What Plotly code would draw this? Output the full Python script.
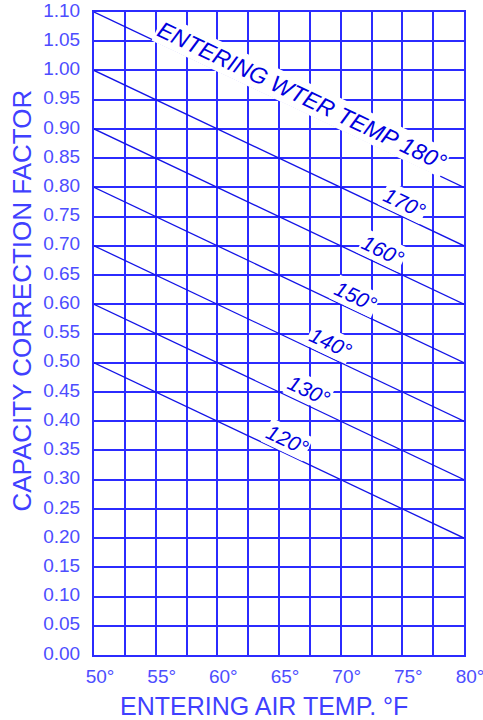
import numpy as np
import plotly.graph_objects as go

# ---- data ----
air_temp = [50, 80]                                   # x endpoints (°F)
water_temps = [120, 130, 140, 150, 160, 170, 180]     # entering water temp (°F)
factor_at_50 = [0.50, 0.60, 0.70, 0.80, 0.90, 1.00, 1.10]
factor_at_80 = [0.20, 0.30, 0.40, 0.50, 0.60, 0.70, 0.80]
x_tick_vals = [50, 55, 60, 65, 70, 75, 80]
x_tick_text = ["50°", "55°", "60°", "65°", "70°", "75°", "80°"]
label_texts = ["120°", "130°", "140°", "150°", "160°", "170°", "ENTERING WTER TEMP 180°"]

# ---- style / layout constants ----
label_x = [65.65, 67.43, 69.14, 71.24, 73.43, 75.14, 66.90]
label_size = [21, 21, 21, 21, 21, 21, 23]
label_offset = 0.026
GRID = "#2b2bff"
CURVE = "#1414e6"
TICK = "#4d4dff"
LABEL = "#0000dd"
FONT = "Liberation Sans, Arial, sans-serif"

fig = go.Figure()
for t, y0, y1 in zip(water_temps, factor_at_50, factor_at_80):
    fig.add_trace(go.Scatter(x=air_temp, y=[y0, y1], mode="lines",
                             line=dict(color=CURVE, width=1.3),
                             showlegend=False, hoverinfo="skip"))

annotations = []
for txt, lx, sz, y0, y1 in zip(label_texts, label_x, label_size, factor_at_50, factor_at_80):
    ly = float(np.interp(lx, air_temp, [y0, y1])) + label_offset
    annotations.append(dict(x=lx, y=ly, xref="x", yref="y", text=txt,
                            showarrow=False, textangle=25.4, bgcolor="white",
                            borderpad=1,
                            font=dict(family=FONT, size=sz, color=LABEL, style="italic")))

annotations.append(dict(x=0.459, y=-0.079, xref="paper", yref="paper",
                        text="ENTERING AIR TEMP. °F", showarrow=False,
                        xanchor="center", yanchor="middle",
                        font=dict(family=FONT, size=25, color="#4040ff")))
annotations.append(dict(x=-0.195, y=0.551, xref="paper", yref="paper",
                        text="CAPACITY CORRECTION FACTOR", showarrow=False,
                        textangle=-90, xanchor="center", yanchor="middle",
                        font=dict(family=FONT, size=26, color="#4040ff")))

fig.update_layout(
    width=483, height=720,
    margin=dict(l=94, r=19, t=12, b=65, autoexpand=False),
    paper_bgcolor="white", plot_bgcolor="white",
    annotations=annotations,
    xaxis=dict(range=[50, 80], tickvals=x_tick_vals, ticktext=x_tick_text,
               showgrid=True, gridcolor=GRID, gridwidth=2,
               minor=dict(dtick=2.5, tick0=50, showgrid=True, gridcolor=GRID, gridwidth=2),
               showline=True, mirror=True, linecolor=GRID, linewidth=2,
               zeroline=False, ticks="", ticklabelstandoff=3, ticklabelshift=6,
               ticklabeloverflow="allow", automargin=False,
               tickfont=dict(family=FONT, size=19, color=TICK), fixedrange=True),
    yaxis=dict(range=[0, 1.10], dtick=0.05, tick0=0, tickformat=".2f",
               showgrid=True, gridcolor=GRID, gridwidth=2,
               showline=True, mirror=True, linecolor=GRID, linewidth=2,
               zeroline=False, ticks="", ticklabelstandoff=8, ticklabelshift=-2,
               ticklabeloverflow="allow", automargin=False,
               tickfont=dict(family=FONT, size=19, color=TICK), fixedrange=True),
)

fig.write_html("out.html", config={"displayModeBar": False},
               post_script="document.body.style.margin='0';document.body.style.overflow='hidden';")
